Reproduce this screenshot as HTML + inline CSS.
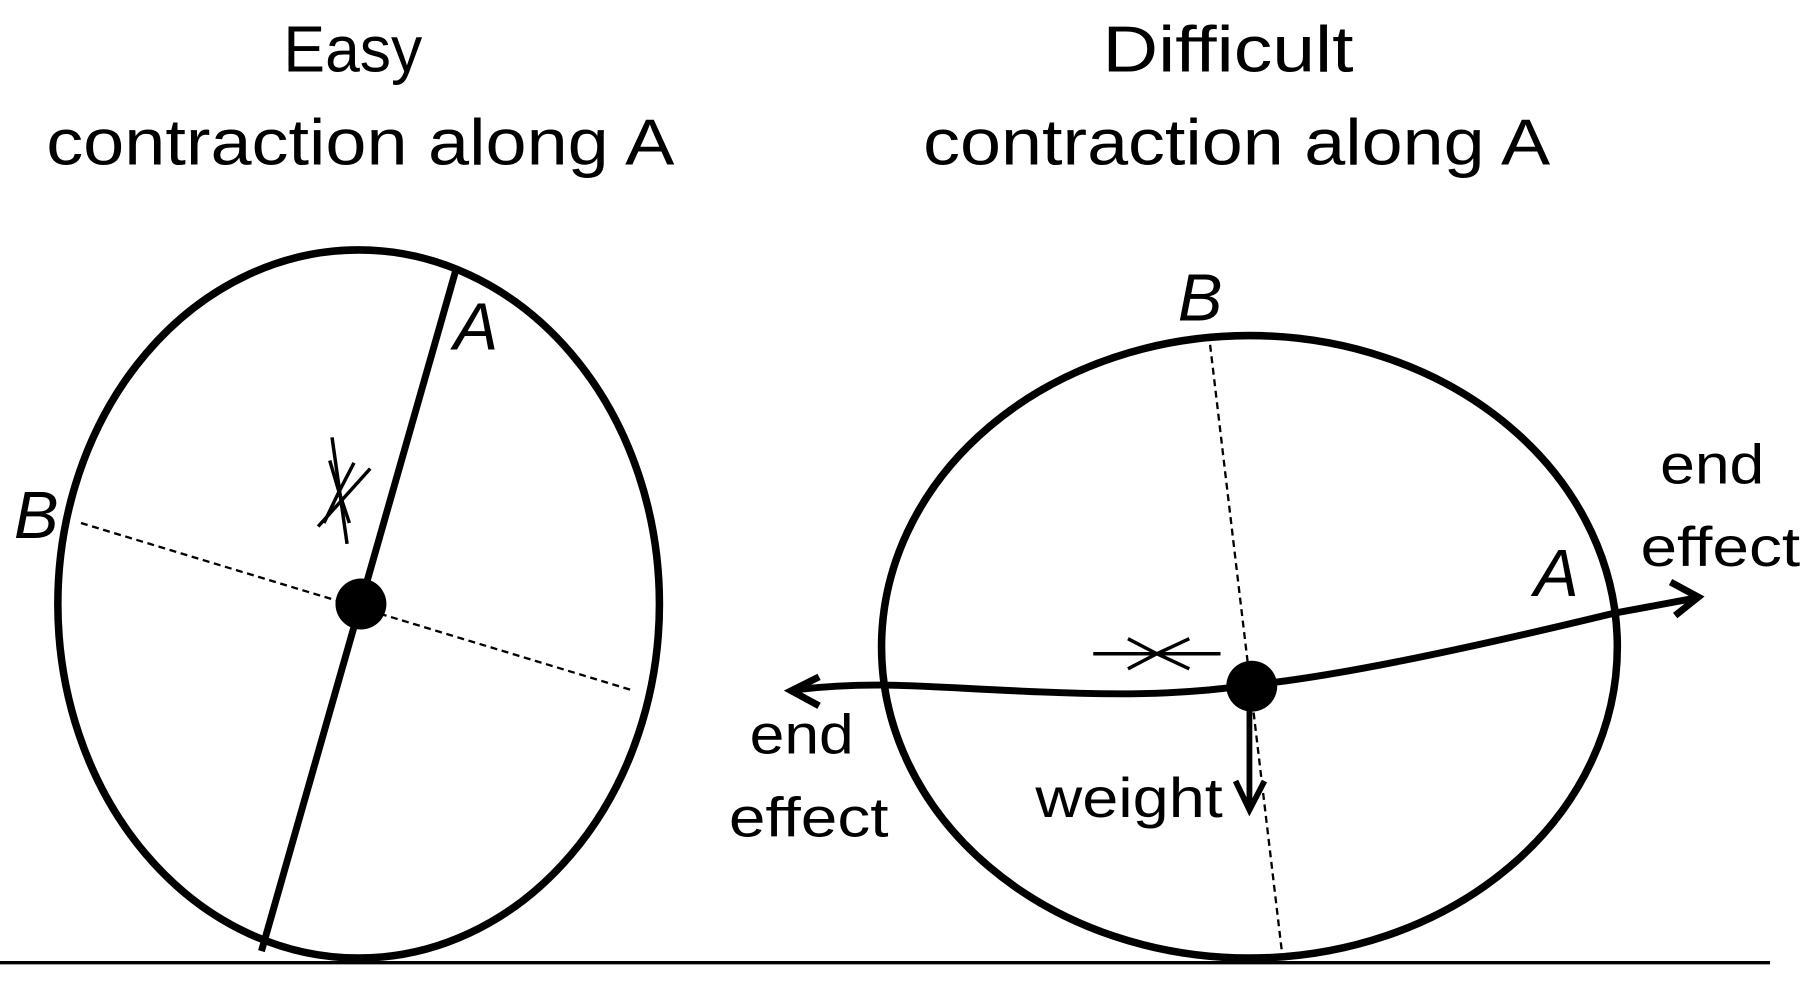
<!DOCTYPE html>
<html><head><style>html,body{margin:0;padding:0;background:#fff}svg{display:block}</style></head><body>
<svg width="1814" height="987" viewBox="0 0 1568 853" preserveAspectRatio="none" xmlns="http://www.w3.org/2000/svg" font-family="Liberation Sans, sans-serif">
<g font-size="56" fill="#000">
<text x="245" y="62" textLength="120" lengthAdjust="spacingAndGlyphs">Easy</text>
<text x="40" y="142" textLength="543" lengthAdjust="spacingAndGlyphs">contraction along A</text>
<text x="953" y="62" textLength="217" lengthAdjust="spacingAndGlyphs">Difficult</text>
<text x="798" y="142" textLength="542" lengthAdjust="spacingAndGlyphs">contraction along A</text>
</g>
<line x1="0" y1="832" x2="1530" y2="832" stroke="#000" stroke-width="3"/>
<ellipse cx="310" cy="522" rx="260" ry="306" fill="none" stroke="#000" stroke-width="6.5"/>
<line x1="395" y1="230" x2="226" y2="822" stroke="#000" stroke-width="6"/>
<line x1="70" y1="452" x2="548" y2="597" stroke="#000" stroke-width="2" stroke-dasharray="6,4"/>
<circle cx="312" cy="522" r="22" fill="#000"/>
<g stroke="#000" stroke-width="3" fill="none">
<line x1="287" y1="378" x2="300" y2="470"/>
<line x1="275" y1="455" x2="320" y2="405"/>
<polyline points="285,398 293,425 306,400"/>
<polyline points="280,452 293,425 302,452"/>
</g>
<g font-size="58" font-style="italic"><text x="392" y="302">A</text><text x="12" y="465">B</text></g>
<ellipse cx="1080" cy="559" rx="318" ry="269" fill="none" stroke="#000" stroke-width="6.5"/>
<line x1="1046" y1="298" x2="1108" y2="822" stroke="#000" stroke-width="2" stroke-dasharray="6,4"/>
<path d="M688,596 C760,588 800,594 900,598 C990,602 1040,598 1082,592 C1150,585 1250,565 1395,530 L1465,517" fill="none" stroke="#000" stroke-width="6"/>
<polyline points="708,585 684,597 708,610" fill="none" stroke="#000" stroke-width="6"/>
<polyline points="1444,503 1468,516 1448,532" fill="none" stroke="#000" stroke-width="6"/>
<circle cx="1082" cy="593" r="22" fill="#000"/>
<line x1="1080" y1="610" x2="1080" y2="698" stroke="#000" stroke-width="5"/>
<polyline points="1068,675 1080,700 1093,675" fill="none" stroke="#000" stroke-width="5"/>
<g stroke="#000" stroke-width="3" fill="none">
<line x1="945" y1="565" x2="1055" y2="565"/>
<polyline points="975,552 1000,565 975,578"/>
<polyline points="1028,552 1000,565 1028,578"/>
</g>
<g font-size="58" font-style="italic"><text x="1326" y="515">A</text><text x="1018" y="277">B</text></g>
<g font-size="48">
<text x="895" y="706" textLength="162" lengthAdjust="spacingAndGlyphs">weight</text>
<text x="648" y="651" textLength="90" lengthAdjust="spacingAndGlyphs">end</text>
<text x="630" y="723" textLength="138" lengthAdjust="spacingAndGlyphs">effect</text>
<text x="1435" y="418" textLength="90" lengthAdjust="spacingAndGlyphs">end</text>
<text x="1418" y="489" textLength="138" lengthAdjust="spacingAndGlyphs">effect</text>
</g>
</svg>
</body></html>
